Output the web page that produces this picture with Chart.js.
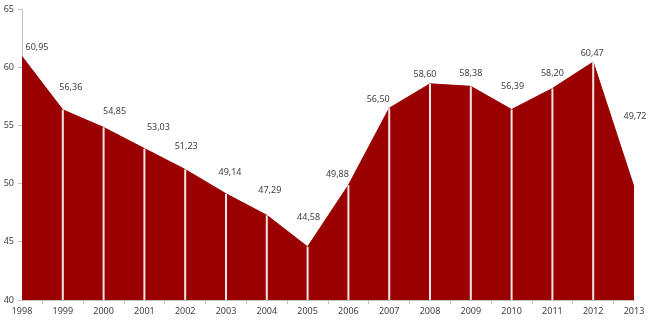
<!DOCTYPE html>
<html>
<head>
<meta charset="utf-8">
<script src="https://cdn.jsdelivr.net/npm/chart.js@4/dist/chart.umd.min.js"></script>
<style>
  html, body { margin: 0; padding: 0; background: #ffffff; }
  #wrap { width: 650px; height: 324px; position: relative; }
</style>
</head>
<body>
<div id="wrap"><canvas id="c" width="650" height="324"></canvas></div>
<script>
// Years on the horizontal axis
const years = ['1998','1999','2000','2001','2002','2003','2004','2005',
               '2006','2007','2008','2009','2010','2011','2012','2013'];
// Yearly values
const values = [60.95, 56.36, 54.85, 53.03, 51.23, 49.14, 47.29, 44.58,
                49.88, 56.50, 58.60, 58.38, 56.39, 58.20, 60.47, 49.72];
// Vertical axis range and step
const yMin = 40;
const yMax = 65;
const yStep = 5;

// Where each value label sits relative to its point (px)
const labelShift = [[15,-9],[8,-22],[11,-16],[14,-21],[1,-23],[4,-21],[3,-25],[1,-29],
                    [-11,-11],[-11,-9],[-5,-9],[0,-13],[1,-23],[0,-15],[-1,-9],[1,-71]];

const fmt = v => v.toFixed(2).replace('.', ',');

// White separators from each inner point down to the axis
const separators = {
  id: 'separators',
  afterDatasetsDraw(chart) {
    const meta = chart.getDatasetMeta(0);
    const ctx = chart.ctx;
    const bottom = chart.chartArea.bottom;
    ctx.save();
    ctx.strokeStyle = '#f2e6e6';
    ctx.lineWidth = 2;
    meta.data.forEach((pt, i) => {
      if (i === 0 || i === meta.data.length - 1) return;
      ctx.beginPath();
      ctx.moveTo(pt.x, pt.y);
      ctx.lineTo(pt.x, bottom);
      ctx.stroke();
    });
    ctx.restore();
  }
};

// Value labels
const valueLabels = {
  id: 'valueLabels',
  afterDraw(chart) {
    const meta = chart.getDatasetMeta(0);
    const ctx = chart.ctx;
    ctx.save();
    ctx.font = '9px "Noto Sans"';
    ctx.fillStyle = '#404040';
    ctx.textAlign = 'center';
    ctx.textBaseline = 'middle';
    meta.data.forEach((pt, i) => {
      const s = labelShift[i];
      ctx.fillText(fmt(values[i]), pt.x + s[0], pt.y + s[1]);
    });
    ctx.restore();
  }
};

new Chart(document.getElementById('c'), {
  type: 'line',
  data: {
    labels: years,
    datasets: [{
      data: values,
      fill: 'start',
      backgroundColor: '#9b0000',
      borderColor: '#9b0000',
      borderWidth: 1,
      pointRadius: 0,
      tension: 0
    }]
  },
  options: {
    responsive: false,
    animation: false,
    devicePixelRatio: 1,
    layout: { padding: { top: 6, right: 16, left: 0, bottom: 0 } },
    plugins: { legend: { display: false }, tooltip: { enabled: false } },
    scales: {
      x: {
        type: 'category',
        offset: false,
        grid: {
          offset: true,
          drawOnChartArea: false,
          drawTicks: true,
          tickLength: 4,
          color: '#bfbfbf'
        },
        border: { color: '#bfbfbf', width: 1 },
        ticks: {
          color: '#404040',
          font: { family: 'Noto Sans', size: 9 },
          maxRotation: 0,
          autoSkip: false,
          padding: 2
        },
        afterFit(scale) { scale.height = 24; }
      },
      y: {
        min: yMin,
        max: yMax,
        grid: {
          drawOnChartArea: false,
          drawTicks: true,
          tickLength: 4,
          color: '#bfbfbf'
        },
        border: { color: '#bfbfbf', width: 1 },
        ticks: {
          stepSize: yStep,
          color: '#404040',
          font: { family: 'Noto Sans', size: 9 },
          padding: 4
        },
        afterFit(scale) { scale.width = 22; }
      }
    }
  },
  plugins: [separators, valueLabels]
});
</script>
</body>
</html>
